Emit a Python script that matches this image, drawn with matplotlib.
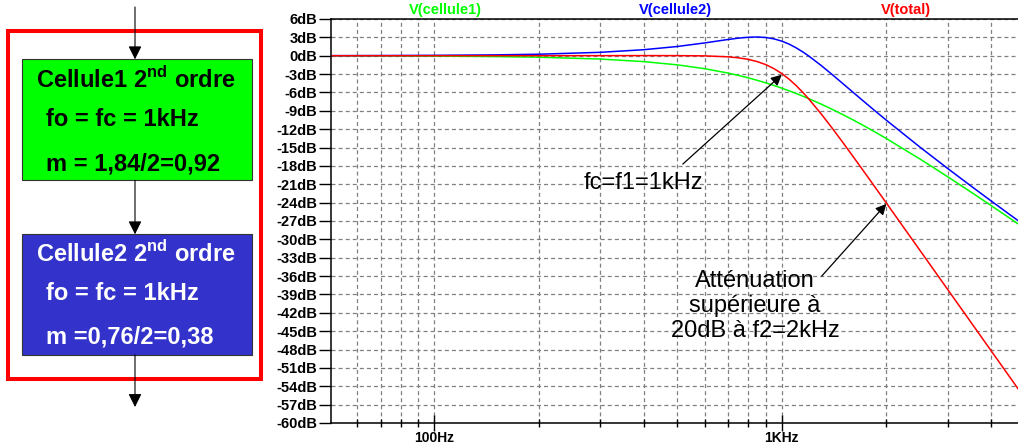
import matplotlib
matplotlib.use('Agg')
import matplotlib.pyplot as plt
from matplotlib.patches import Rectangle
from matplotlib.ticker import FixedLocator, NullFormatter

plt.rcParams['font.family'] = ['Liberation Sans', 'DejaVu Sans']
plt.rcParams['mathtext.fontset'] = 'custom'
plt.rcParams['mathtext.rm'] = 'Liberation Sans'
plt.rcParams['mathtext.bf'] = 'Liberation Sans:bold'
plt.rcParams['lines.scale_dashes'] = False

# Bode magnitude of the two 2nd order cells and of the cascade (Hz, dB)
freq = [50, 60, 70, 80, 100, 150, 200, 300, 400, 500, 600, 700, 750, 800, 850,
        900, 950, 1000, 1050, 1100, 1150, 1200, 1300, 1400, 1500, 1600, 1700,
        1850, 2000, 2500, 3000, 3500, 4000, 4500, 5000]
cellule1_db = [-0.015, -0.022, -0.030, -0.039, -0.060, -0.135, -0.241, -0.542,
               -0.960, -1.489, -2.118, -2.831, -3.213, -3.610, -4.019, -4.438,
               -4.864, -5.296, -5.732, -6.171, -6.610, -7.049, -7.923, -8.784,
               -9.628, -10.454, -11.257, -12.419, -13.530, -16.877, -19.753,
               -22.254, -24.459, -26.426, -28.199]
cellule2_db = [0.015, 0.022, 0.030, 0.040, 0.062, 0.139, 0.247, 0.555, 0.980,
               1.506, 2.093, 2.651, 2.871, 3.017, 3.060, 2.976, 2.751, 2.384,
               1.889, 1.290, 0.615, -0.109, -1.621, -3.125, -4.567, -5.924,
               -7.194, -8.946, -10.535, -14.938, -18.401, -21.259, -23.697,
               -25.824, -27.711]
total_db = [0.000, 0.000, 0.000, 0.001, 0.002, 0.004, 0.006, 0.013, 0.020,
            0.017, -0.025, -0.180, -0.342, -0.593, -0.959, -1.462, -2.113,
            -2.912, -3.843, -4.881, -5.995, -7.158, -9.544, -11.909, -14.195,
            -16.378, -18.451, -21.365, -24.065, -31.815, -38.154, -43.513,
            -48.156, -52.250, -55.910]

trace_names = ['V(cellule1)', 'V(cellule2)', 'V(total)']
trace_colors = ['#00ff00', '#0000ff', '#ff0000']

db_ticks = list(range(-60, 7, 3))
db_labels = ['%ddB' % v for v in db_ticks]
f_major = [100, 1000]
f_major_labels = ['100Hz', '1KHz']
f_minor = [60, 70, 80, 90, 200, 300, 400, 500, 600, 700, 800, 900,
           2000, 3000, 4000]

W, H = 1018, 445


def box(x0, y0, x1, y1):
    # pixel box (top-left origin) -> figure fraction rect
    return [x0 / W, 1 - y1 / H, (x1 - x0) / W, (y1 - y0) / H]


fig = plt.figure(figsize=(W / 100, H / 100), dpi=100)

# ---- block diagram on the left ----
axd = fig.add_axes(box(0, 0, 270, H))
axd.set_xlim(0, 270)
axd.set_ylim(H, 0)
axd.axis('off')

axd.add_patch(Rectangle((8, 31), 253, 348, fill=False, ec='#ff0000', lw=2.9))
axd.add_patch(Rectangle((21.7, 59.3), 230.6, 121, fc='#00ff00', ec='#333333', lw=0.8))
axd.add_patch(Rectangle((21.7, 234.3), 230.6, 120.7, fc='#3333cc', ec='#333333', lw=0.8))

for y0, y1 in [(7, 59.3), (180.3, 234.3), (355, 407)]:
    axd.annotate('', xy=(135, y1), xytext=(135, y0),
                 arrowprops=dict(arrowstyle='-|>', mutation_scale=20, lw=0.8,
                                 color='black', shrinkA=0, shrinkB=0))

cell_rows = [
    ('black', 88.3, 126, 170.5, 'Cellule1', 'fo = fc = 1kHz', 'm = 1,84/2=0,92'),
    ('white', 261.7, 300, 343.3, 'Cellule2', 'fo = fc = 1kHz', 'm =0,76/2=0,38'),
]
for col, yt, y2, y3, name, l2, l3 in cell_rows:
    axd.text(136, yt, name + r' 2$^{\mathbf{nd}}$ ordre', ha='center', va='baseline',
             color=col, fontsize=17, fontweight='bold')
    axd.text(46, y2, l2, ha='left', va='baseline', color=col, fontsize=17, fontweight='bold')
    axd.text(46, y3, l3, ha='left', va='baseline', color=col, fontsize=17, fontweight='bold')

# ---- Bode plot ----
ax = fig.add_axes(box(331, 19, 1024.6, 423))
ax.semilogx(freq, cellule1_db, color=trace_colors[0], lw=1.1)
ax.semilogx(freq, cellule2_db, color=trace_colors[1], lw=1.1)
ax.semilogx(freq, total_db, color=trace_colors[2], lw=1.1)
ax.set_xlim(50.4, 5000)
ax.set_ylim(-60, 6)

ax.yaxis.set_major_locator(FixedLocator(db_ticks))
ax.set_yticklabels(db_labels)
ax.xaxis.set_major_locator(FixedLocator(f_major))
ax.set_xticklabels(f_major_labels)
ax.xaxis.set_minor_locator(FixedLocator(f_minor))
ax.xaxis.set_minor_formatter(NullFormatter())

for lab in ax.get_yticklabels() + ax.get_xticklabels():
    lab.set_fontweight('bold')
ax.tick_params(axis='y', direction='out', length=9, width=1, pad=1, labelsize=10.5)
ax.tick_params(axis='x', which='major', direction='inout', length=11, width=1,
               pad=0, labelsize=10)
ax.tick_params(axis='x', which='minor', direction='inout', length=6, width=1)

ax.grid(which='both', color='#808080', lw=0.9, linestyle=(0, (2.9, 2.2)))
ax.spines['right'].set_visible(False)
for s in ['left', 'top', 'bottom']:
    ax.spines[s].set_linewidth(1.1)

for name, col, xc in zip(trace_names, trace_colors, [445, 675, 906]):
    fig.text(xc / W, 1 - 10 / H, name, ha='center', va='center', color=col,
             fontsize=10.5, fontweight='bold')

arrow = dict(arrowstyle='-|>', mutation_scale=16, lw=0.9, color='black',
             shrinkA=0, shrinkB=0)
ax.annotate('', xy=(1000, -3.1), xytext=(519, -17.7), arrowprops=arrow)
ax.text(400, -20.8, 'fc=f1=1kHz', ha='center', va='center', fontsize=17)
ax.annotate('', xy=(2000, -24.2), xytext=(1303, -36.0), arrowprops=arrow)
ax.text(838, -40.9, 'Atténuation\nsupérieure à\n20dB à f2=2kHz', ha='center',
        va='center', fontsize=17, linespacing=1.2)

fig.savefig('out.png', dpi=100)
